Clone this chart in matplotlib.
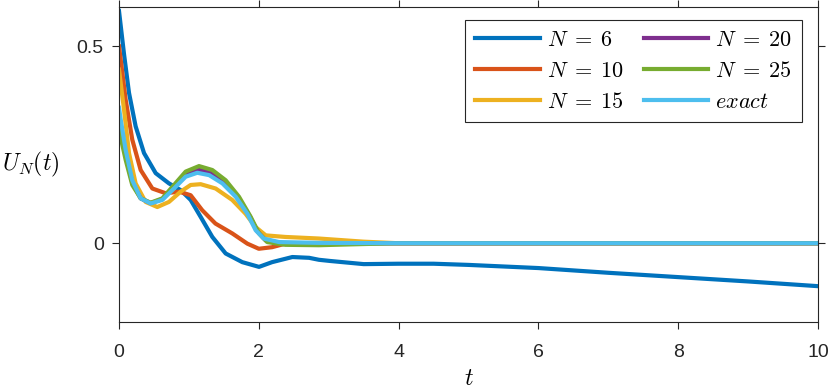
import matplotlib
matplotlib.use("Agg")
import matplotlib.pyplot as plt
from matplotlib import font_manager

# values
t6 = [0, 0.036, 0.072, 0.143, 0.238, 0.358, 0.525, 0.715, 0.882, 1.025, 1.168, 1.335, 1.526, 1.764,
      2.003, 2.19, 2.48, 2.72, 2.86, 3.02, 3.5, 4, 4.5, 5, 6, 7, 8, 9, 10]
u6 = [0.59, 0.535, 0.48, 0.382, 0.297, 0.229, 0.178, 0.152, 0.135, 0.110, 0.067, 0.016, -0.026, -0.048,
      -0.06, -0.048, -0.035, -0.037, -0.042, -0.045, -0.053, -0.052, -0.052, -0.055, -0.063, -0.075,
      -0.086, -0.097, -0.109]

t10 = [0, 0.024, 0.095, 0.19, 0.31, 0.477, 0.668, 0.858, 1.025, 1.19, 1.38, 1.62, 1.836, 2.0,
       2.19, 2.38, 2.6, 3, 4, 10]
u10 = [0.50, 0.467, 0.365, 0.263, 0.186, 0.139, 0.127, 0.131, 0.122, 0.084, 0.05, 0.025, -0.001, -0.014,
       -0.01, -0.001, 0.0, 0.0, 0.0, 0.0]

t15 = [0, 0.072, 0.143, 0.238, 0.38, 0.548, 0.715, 0.882, 1.025, 1.168, 1.383, 1.62, 1.81, 1.955,
       2.10, 2.38, 2.86, 3.5, 4, 10]
u15 = [0.441, 0.339, 0.229, 0.152, 0.105, 0.092, 0.105, 0.131, 0.148, 0.150, 0.139, 0.110, 0.075, 0.041,
       0.020, 0.016, 0.012, 0.004, 0.0, 0.0]

t20 = [0, 0.095, 0.19, 0.31, 0.453, 0.62, 0.787, 0.954, 1.13, 1.31, 1.5, 1.69, 1.86, 1.98, 2.1, 2.35,
       3, 4, 10]
u20 = [0.31, 0.225, 0.154, 0.114, 0.102, 0.112, 0.143, 0.175, 0.187, 0.18, 0.157, 0.118, 0.072, 0.03,
       0.007, 0.0, 0.0, 0.0, 0.0]

t25 = [0, 0.095, 0.19, 0.31, 0.453, 0.62, 0.787, 0.954, 1.145, 1.335, 1.526, 1.717, 1.884, 2.003,
       2.12, 2.38, 2.86, 3.5, 4, 10]
u25 = [0.288, 0.212, 0.148, 0.114, 0.103, 0.114, 0.148, 0.182, 0.196, 0.186, 0.16, 0.118, 0.067, 0.025,
       0.003, -0.004, -0.005, -0.002, 0.0, 0.0]

tex = [0, 0.024, 0.095, 0.19, 0.31, 0.453, 0.62, 0.787, 0.954, 1.12, 1.29, 1.48, 1.67, 1.836, 1.955,
       2.07, 2.29, 2.86, 4, 10]
uex = [0.344, 0.315, 0.237, 0.16, 0.114, 0.101, 0.110, 0.139, 0.169, 0.179, 0.173, 0.152, 0.118, 0.075,
       0.033, 0.012, 0.003, 0.001, 0.0, 0.0]

labels = [r"$N\;=\;6$", r"$N\;=\;10$", r"$N\;=\;15$", r"$N\;=\;20$", r"$N\;=\;25$", r"$exact$"]
colors = ["#0072bd", "#d95319", "#edb120", "#7e2f8e", "#77ac30", "#4dbeee"]
xticks = [0, 2, 4, 6, 8, 10]
yticks = [0, 0.5]

names = {f.name for f in font_manager.fontManager.ttflist}
tick_font = "Liberation Sans Narrow" if "Liberation Sans Narrow" in names else "Liberation Sans"

plt.rcParams["mathtext.fontset"] = "cm"
axcol = "#262626"

fig = plt.figure(figsize=(8.3, 3.9), dpi=100)
ax = fig.add_axes([119 / 830, 68 / 390, 699 / 830, 315 / 390])

series = [(t6, u6), (t10, u10), (t15, u15), (t20, u20), (t25, u25), (tex, uex)]
for (t, u), c, lab in zip(series, colors, labels):
    ax.plot(t, u, color=c, lw=3, label=lab, solid_joinstyle="round")

ax.set_xlim(0, 10)
ax.set_ylim(-0.2, 0.6)
ax.set_xticks(xticks)
ax.set_xticklabels([str(v) for v in xticks])
ax.set_yticks(yticks)
ax.set_yticklabels(["0", "0.5"])

for s in ax.spines.values():
    s.set_color(axcol)
    s.set_linewidth(0.8)
ax.tick_params(direction="out", length=5, width=0.8, color=axcol,
               top=True, right=True, labelsize=14, labelcolor=axcol)
ax.tick_params(axis="x", pad=11)
ax.tick_params(axis="y", pad=6)
for lab in ax.get_xticklabels() + ax.get_yticklabels():
    lab.set_fontfamily(tick_font)

ax.set_xlabel(r"$t$", fontsize=17)
ax.xaxis.set_label_coords(0.5, -0.14)
ax.set_ylabel(r"$U_N(t)$", fontsize=17, rotation=0, ha="center", va="center")
ax.yaxis.set_label_coords(-0.126, 0.5)

leg = ax.legend(ncol=2, loc="upper right", bbox_to_anchor=(0.977, 0.9587), borderaxespad=0,
                fontsize=16, handlelength=2.9, handletextpad=0.3, columnspacing=0.9,
                labelspacing=0.5, borderpad=0.45, fancybox=False, framealpha=1)
leg.get_frame().set_edgecolor(axcol)
leg.get_frame().set_linewidth(0.8)

fig.savefig("out.png", dpi=100)
